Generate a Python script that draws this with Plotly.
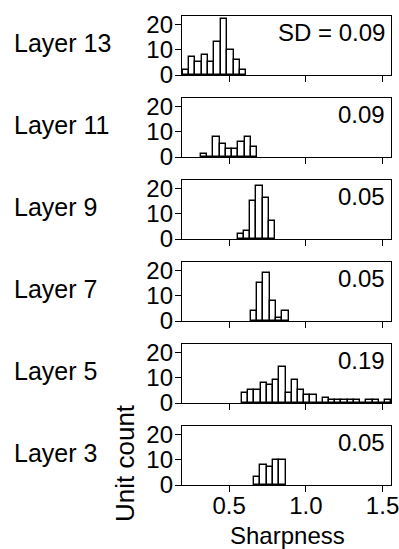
import plotly.graph_objects as go

# Histogram data: per layer, left edge of first bin, bin width and unit counts
layers = ["Layer 13", "Layer 11", "Layer 9", "Layer 7", "Layer 5", "Layer 3"]
sd_labels = ["SD = 0.09", "0.09", "0.05", "0.05", "0.19", "0.05"]

bin_start = [0.197, 0.315, 0.555, 0.642, 0.584, 0.663]
bin_width = [0.0415, 0.041, 0.041, 0.041, 0.0405, 0.041]

counts_l13 = [2, 7, 5, 8, 5, 13, 22, 10, 6, 2]
counts_l11 = [1, 0, 8, 5, 3, 3, 6, 8, 4]
counts_l9 = [2, 3, 15, 21, 16, 7]
counts_l7 = [4, 15, 19, 8, 1, 4]
counts_l5 = [4, 5, 5, 8, 7, 9, 14, 4, 9, 5, 3, 3, 0, 2, 1, 1, 1, 1, 1, 0, 1, 1, 0, 1]
counts_l3 = [3, 8, 7, 10, 10]
all_counts = [counts_l13, counts_l11, counts_l9, counts_l7, counts_l5, counts_l3]

x_ticks = [0.5, 1.0, 1.5]
x_tick_text = ["0.5", "1.0", "1.5"]
y_ticks = [0, 10, 20]

W, H = 399, 549
FONT = "Liberation Sans, Arial, sans-serif"
FS = 24
LW = 1.4

# panel geometry in pixels
left_px, right_px = 182, 391
panel_top = [16, 98, 180, 262, 344, 426]
panel_h = 59

fig = go.Figure()
layout = dict(
    template="none",
    width=W, height=H,
    margin=dict(l=0, r=0, t=0, b=0, autoexpand=False),
    paper_bgcolor="white", plot_bgcolor="white",
    showlegend=False,
    font=dict(family=FONT, size=FS, color="black"),
    bargap=0,
)
annotations = []

for i, (name, counts) in enumerate(zip(layers, all_counts)):
    k = "" if i == 0 else str(i + 1)
    centers = [bin_start[i] + (j + 0.5) * bin_width[i] for j in range(len(counts))]
    fig.add_trace(go.Bar(
        x=centers, y=counts, width=bin_width[i],
        marker=dict(color="white", line=dict(color="black", width=LW)),
        xaxis="x" + k, yaxis="y" + k,
    ))
    top = panel_top[i]
    bot = top + panel_h
    y0 = 1 - bot / H
    y1 = 1 - top / H
    last = i == len(layers) - 1
    layout["xaxis" + k] = dict(
        domain=[left_px / W, right_px / W], anchor="y" + k,
        range=[0.193, 1.555], tickvals=x_ticks, ticktext=x_tick_text,
        showticklabels=last, ticks="outside", ticklen=6, tickwidth=LW,
        tickcolor="black", showline=True, mirror=True, linecolor="black",
        linewidth=LW, showgrid=False, zeroline=False, fixedrange=True,
        automargin=False, ticklabeloverflow="allow", ticklabelstandoff=-7,
        tickfont=dict(family=FONT, size=FS, color="black"),
    )
    layout["yaxis" + k] = dict(
        domain=[y0, y1], anchor="x" + k,
        range=[0, 23.2], tickvals=y_ticks,
        ticks="outside", ticklen=6, tickwidth=LW, tickcolor="black",
        showline=True, mirror=True, linecolor="black", linewidth=LW,
        showgrid=False, zeroline=False, fixedrange=True,
        automargin=False, ticklabelstandoff=-3,
        tickfont=dict(family=FONT, size=FS, color="black"),
    )
    annotations.append(dict(
        text=name, xref="paper", yref="paper",
        x=12 / W, y=1 - (top + panel_h / 2 - 3) / H,
        xanchor="left", yanchor="middle", showarrow=False,
        font=dict(family=FONT, size=25, color="black"),
    ))
    annotations.append(dict(
        text=sd_labels[i], xref="paper", yref="paper",
        x=(right_px - 4) / W, y=1 - (top + 1) / H,
        xanchor="right", yanchor="top", showarrow=False,
        font=dict(family=FONT, size=FS, color="black"),
    ))

annotations.append(dict(
    text="Sharpness", xref="paper", yref="paper",
    x=287 / W, y=1 - 535 / H, xanchor="center", yanchor="middle",
    showarrow=False, font=dict(family=FONT, size=FS, color="black"),
))
annotations.append(dict(
    text="Unit count", xref="paper", yref="paper",
    x=125 / W, y=1 - 463 / H, xanchor="center", yanchor="middle",
    textangle=-90, showarrow=False,
    font=dict(family=FONT, size=26, color="black"),
))
layout["annotations"] = annotations

fig.update_layout(**layout)
fig.write_html("out.html")
